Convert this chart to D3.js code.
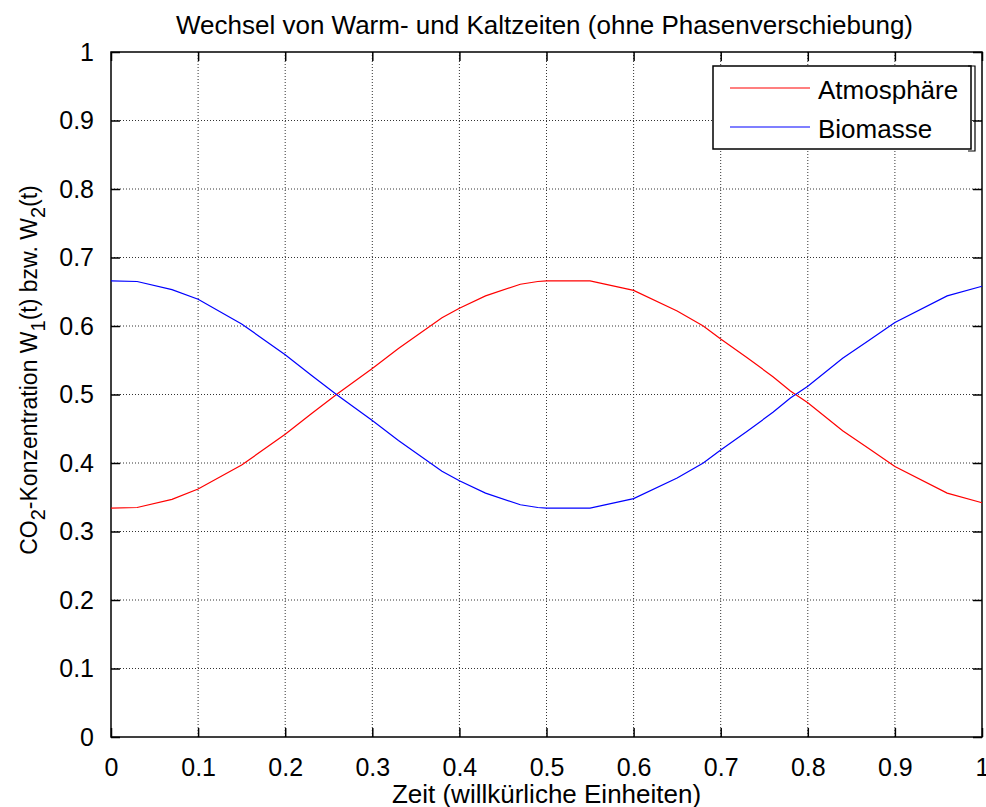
<!DOCTYPE html>
<html>
<head>
<meta charset="utf-8">
<script src="https://cdn.jsdelivr.net/npm/d3@7"></script>
<style>
  body { margin: 0; background: #fff; }
  svg { display: block; font-family: "Liberation Sans", Arial, sans-serif; }
</style>
</head>
<body>
<div id="chart"></div>
<script>
// time points (arbitrary units)
var times = [0, 0.03, 0.07, 0.10, 0.15, 0.20, 0.23, 0.26, 0.30, 0.33,
             0.38, 0.40, 0.43, 0.47, 0.49, 0.50, 0.55, 0.60, 0.65, 0.68,
             0.70, 0.73, 0.76, 0.78, 0.80, 0.84, 0.87, 0.90, 0.96, 1.00];

// W1(t): atmosphere
var atmosphere = [0.334, 0.335, 0.347, 0.362, 0.397, 0.442, 0.472, 0.501, 0.538, 0.567,
                  0.612, 0.626, 0.644, 0.661, 0.665, 0.666, 0.666, 0.652, 0.622, 0.600,
                  0.581, 0.554, 0.526, 0.505, 0.488, 0.447, 0.421, 0.395, 0.356, 0.342];

// W2(t): biomass
var biomass = [0.666, 0.665, 0.653, 0.639, 0.603, 0.558, 0.528, 0.499, 0.462, 0.433,
               0.388, 0.374, 0.356, 0.339, 0.335, 0.334, 0.334, 0.348, 0.378, 0.400,
               0.419, 0.446, 0.474, 0.495, 0.512, 0.553, 0.579, 0.605, 0.644, 0.658];

var xTicks = [0, 0.1, 0.2, 0.3, 0.4, 0.5, 0.6, 0.7, 0.8, 0.9, 1];
var yTicks = [0, 0.1, 0.2, 0.3, 0.4, 0.5, 0.6, 0.7, 0.8, 0.9, 1];

var seriesNames = ["Atmosphäre", "Biomasse"];
var seriesColors = ["#ff0000", "#0000ff"];

var W = 986, H = 807;
var margin = { top: 52, right: 4, bottom: 70, left: 111 };
var width = W - margin.left - margin.right,
    height = H - margin.top - margin.bottom,
    tickLen = 9;

var x = d3.scaleLinear().domain([0, 1]).range([0, width]);
var y = d3.scaleLinear().domain([0, 1]).range([height, 0]);

var svg = d3.select("#chart").append("svg")
  .attr("width", W).attr("height", H);

var g = svg.append("g")
  .attr("transform", "translate(" + margin.left + "," + margin.top + ")");

// dotted grid
g.append("g").selectAll("line").data(xTicks.slice(1, -1)).enter().append("line")
  .attr("x1", x).attr("x2", x).attr("y1", 0).attr("y2", height)
  .attr("stroke", "#333").attr("stroke-width", 1).attr("stroke-dasharray", "1,2");
g.append("g").selectAll("line").data(yTicks.slice(1, -1)).enter().append("line")
  .attr("y1", y).attr("y2", y).attr("x1", 0).attr("x2", width)
  .attr("stroke", "#333").attr("stroke-width", 1).attr("stroke-dasharray", "1,2");

// axes: ticks point inward on all four sides
function styleAxis(sel) {
  sel.select(".domain").remove();
  sel.selectAll(".tick line").attr("stroke", "#000").attr("stroke-width", 1.5);
  sel.selectAll(".tick text").attr("fill", "#000").attr("font-size", "25px")
    .attr("font-family", "Liberation Sans, Arial, sans-serif");
}
var fmt = function(d) { return d === 0 || d === 1 ? String(d) : d3.format(".1f")(d); };

g.append("g").attr("transform", "translate(0," + height + ")")
  .call(d3.axisBottom(x).tickValues(xTicks).tickFormat(fmt)
        .tickSizeInner(-tickLen).tickSizeOuter(0).tickPadding(tickLen + 12))
  .call(styleAxis);
g.append("g")
  .call(d3.axisTop(x).tickValues(xTicks).tickFormat("")
        .tickSizeInner(-tickLen).tickSizeOuter(0))
  .call(styleAxis);
g.append("g")
  .call(d3.axisLeft(y).tickValues(yTicks).tickFormat(fmt)
        .tickSizeInner(-tickLen).tickSizeOuter(0).tickPadding(tickLen + 8))
  .call(styleAxis);
g.append("g").attr("transform", "translate(" + width + ",0)")
  .call(d3.axisRight(y).tickValues(yTicks).tickFormat("")
        .tickSizeInner(-tickLen).tickSizeOuter(0))
  .call(styleAxis);

// box
g.append("rect").attr("width", width).attr("height", height)
  .attr("fill", "none").attr("stroke", "#000").attr("stroke-width", 1.5);

// curves
var line = d3.line()
  .x(function(d, i) { return x(times[i]); })
  .y(function(d) { return y(d); });

[atmosphere, biomass].forEach(function(s, i) {
  g.append("path").datum(s)
    .attr("d", line)
    .attr("fill", "none")
    .attr("stroke", seriesColors[i])
    .attr("stroke-width", 1.2);
});

// legend
var lg = svg.append("g").attr("transform", "translate(713,66)");
lg.append("rect").attr("width", 258).attr("height", 83)
  .attr("fill", "#fff").attr("stroke", "#000").attr("stroke-width", 1.5);
lg.append("path").attr("d", "M255,0H262V85H255").attr("fill", "none")
  .attr("stroke", "#000").attr("stroke-width", 1.2);
seriesNames.forEach(function(name, i) {
  var yy = 22 + i * 39;
  lg.append("line").attr("x1", 17).attr("x2", 97).attr("y1", yy).attr("y2", yy)
    .attr("stroke", seriesColors[i]).attr("stroke-width", 1.2);
  lg.append("text").attr("x", 105).attr("y", yy + 11)
    .attr("font-size", "26px").attr("fill", "#000").text(name);
});

// title
svg.append("text").attr("x", margin.left + width / 2 - 2).attr("y", 34)
  .attr("text-anchor", "middle").attr("font-size", "26px").attr("fill", "#000")
  .text("Wechsel von Warm- und Kaltzeiten (ohne Phasenverschiebung)");

// x label
svg.append("text").attr("x", margin.left + width / 2).attr("y", 803)
  .attr("text-anchor", "middle").attr("font-size", "26px").attr("fill", "#000")
  .text("Zeit (willkürliche Einheiten)");

// y label with subscripts
var yl = svg.append("text")
  .attr("transform", "translate(37,370) rotate(-90)")
  .attr("text-anchor", "middle").attr("font-size", "23px").attr("fill", "#000");
var parts = [["CO", 0], ["2", 1], ["-Konzentration W", 0], ["1", 1],
             ["(t) bzw. W", 0], ["2", 1], ["(t)", 0]];
var prevSub = 0;
parts.forEach(function(p) {
  var shift = (p[1] - prevSub) * 8;
  yl.append("tspan").attr("dy", shift)
    .attr("font-size", p[1] ? "20px" : "23px").text(p[0]);
  prevSub = p[1];
});
</script>
</body>
</html>
